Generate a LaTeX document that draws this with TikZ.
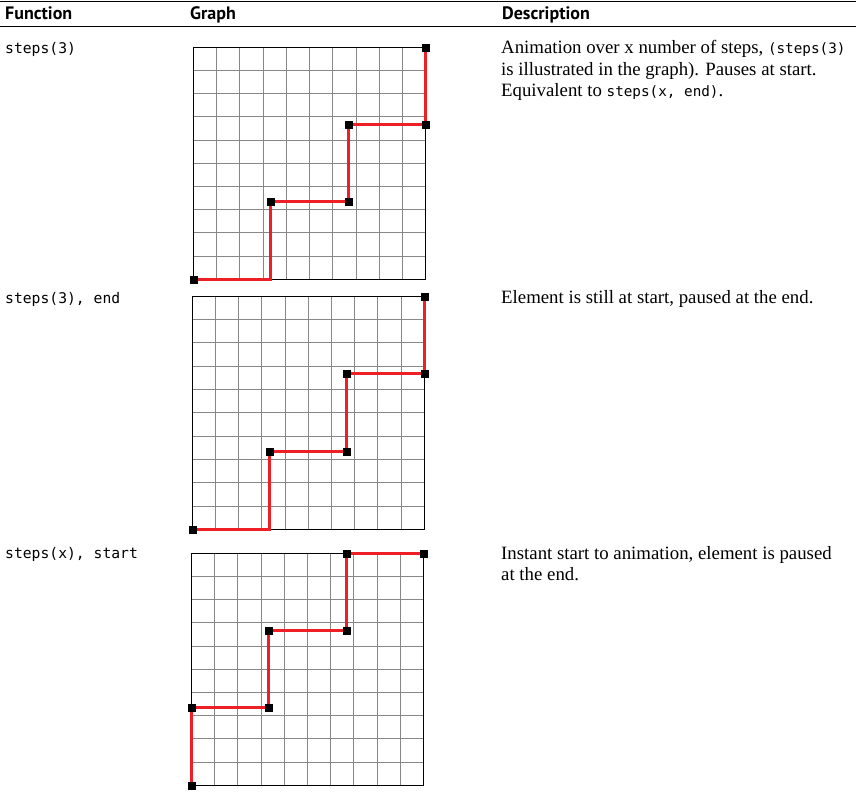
\documentclass[tikz,border=0pt]{standalone}
\usepackage{fontspec}
\setmainfont{Liberation Serif}
\setmonofont{DejaVu Sans Mono}
\newfontfamily\hdrfont{PT Sans}
\usepackage{tikz}
\usetikzlibrary{positioning}
\definecolor{stepred}{RGB}{237,32,38}
\definecolor{gridgray}{RGB}{135,135,135}
\newcommand{\cd}[1]{{\ttfamily\fontsize{14.3}{17}\selectfont #1}}
\tikzstyle{hdr} = [font=\hdrfont\bfseries\fontsize{18}{21}\selectfont, inner sep=0pt, anchor=base west]
\tikzstyle{fn} = [font=\ttfamily\fontsize{14.7}{18}\selectfont, inner sep=0pt, anchor=base west]
\tikzstyle{desc} = [font=\fontsize{18.8}{21.7}\selectfont, inner sep=0pt, anchor=base west]
\tikzstyle{rule} = [draw, line width=1pt]
\tikzstyle{gridline} = [draw=gridgray, line width=1pt]
\tikzstyle{frame} = [draw, line width=1.1pt]
\tikzstyle{redline} = [draw=stepred, line width=3pt]
\tikzstyle{dot} = [rectangle, fill, draw, inner sep=0pt, minimum size=7pt]

\begin{document}
\begin{tikzpicture}[x=1pt, y=-1pt]
	\useasboundingbox (0,0) rectangle (856,800);
	% header
	\path [rule] (0,1.5) -- (856,1.5);
	\path [rule] (0,27) -- (856,27);
	\node [hdr] (hfn) at (5,20) {Function};
	\node [hdr] (hgr) at (190,20) {Graph};
	\node [hdr] (hds) at (502,20) {Description};

	% function column
	\node [fn] (f1) at (5,53) {steps(3)};
	\node [fn] (f2) at (5,303) {steps(3), end};
	\node [fn] (f3) at (5,558) {steps(x), start};

	% description column
	\node [desc] (d1a) at (501,53.3) {Animation over x number of steps, \cd{(steps(3)}};
	\node [desc] (d1b) at (501,75) {is illustrated in the graph). Pauses at start.};
	\node [desc] (d1c) at (501,96.7) {Equivalent to \cd{steps(x, end)}.};
	\node [desc] (d2a) at (501,303.3) {Element is still at start, paused at the end.};
	\node [desc] (d3a) at (501,559) {Instant start to animation, element is paused};
	\node [desc] (d3b) at (501,580.7) {at the end.};

	% graph 1
	\begin{scope}[shift={(193.3,279.3)}, x=23.25pt, y=23.2pt]
		\path [gridline] (0,0) grid [step=1] (10,10);
		\path [frame] (0,0) rectangle (10,10);
		\coordinate (a1) at (0,0);
		\coordinate (b1) at (10/3,0);
		\coordinate (c1) at (10/3,10/3);
		\coordinate (d1) at (20/3,10/3);
		\coordinate (e1) at (20/3,20/3);
		\coordinate (g1) at (10,20/3);
		\coordinate (h1) at (10,10);
		\path [redline] (a1) -- (b1) -- (c1) -- (d1) -- (e1) -- (g1) -- (h1);
		\node [dot] at (a1) {};
		\node [dot] at (c1) {};
		\node [dot] at (d1) {};
		\node [dot] at (e1) {};
		\node [dot] at (g1) {};
		\node [dot] at (h1) {};
	\end{scope}

	% graph 2
	\begin{scope}[shift={(192.3,529.3)}, x=23.2pt, y=23.3pt]
		\path [gridline] (0,0) grid [step=1] (10,10);
		\path [frame] (0,0) rectangle (10,10);
		\coordinate (a2) at (0,0);
		\coordinate (b2) at (10/3,0);
		\coordinate (c2) at (10/3,10/3);
		\coordinate (d2) at (20/3,10/3);
		\coordinate (e2) at (20/3,20/3);
		\coordinate (g2) at (10,20/3);
		\coordinate (h2) at (10,10);
		\path [redline] (a2) -- (b2) -- (c2) -- (d2) -- (e2) -- (g2) -- (h2);
		\node [dot] at (a2) {};
		\node [dot] at (c2) {};
		\node [dot] at (d2) {};
		\node [dot] at (e2) {};
		\node [dot] at (g2) {};
		\node [dot] at (h2) {};
	\end{scope}

	% graph 3
	\begin{scope}[shift={(191.3,785.3)}, x=23.24pt, y=23.2pt]
		\path [gridline] (0,0) grid [step=1] (10,10);
		\path [frame] (0,0) rectangle (10,10);
		\coordinate (a3) at (0,0);
		\coordinate (b3) at (0,10/3);
		\coordinate (c3) at (10/3,10/3);
		\coordinate (d3) at (10/3,20/3);
		\coordinate (e3) at (20/3,20/3);
		\coordinate (g3) at (20/3,10);
		\coordinate (h3) at (10,10);
		\path [redline] (a3) -- (b3) -- (c3) -- (d3) -- (e3) -- (g3) -- (h3);
		\node [dot] at (a3) {};
		\node [dot] at (b3) {};
		\node [dot] at (c3) {};
		\node [dot] at (d3) {};
		\node [dot] at (e3) {};
		\node [dot] at (g3) {};
		\node [dot] at (h3) {};
	\end{scope}
\end{tikzpicture}
\end{document}
